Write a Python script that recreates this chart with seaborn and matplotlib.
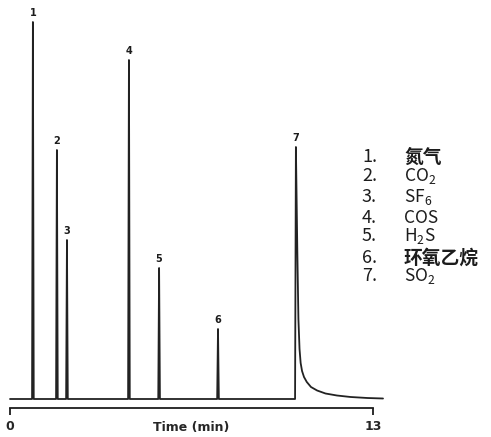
import matplotlib
matplotlib.use("Agg")
import matplotlib.pyplot as plt
import seaborn as sns
import pandas as pd

# ---- data ----
peak_ids = [1, 2, 3, 4, 5, 6, 7]
peak_times = [0.82, 1.68, 2.04, 4.26, 5.34, 7.45, 10.24]      # min
peak_heights = [377, 249, 159, 339, 131, 70, 252]              # detector response (a.u.)
tail_times = [10.29, 10.33, 10.37, 10.41, 10.46, 10.53, 10.63, 10.78, 11.00,
              11.30, 11.71, 12.20, 12.80, 13.36]                 # SO2 peak tailing
tail_heights = [150, 80, 50, 36, 28, 22, 17, 12, 8.5, 5.5, 3.5, 2, 1, 0.5]
legend_nums = ["1.", "2.", "3.", "4.", "5.", "6.", "7."]
legend_names = ["氮气", "CO$_2$", "SF$_6$", "COS", "H$_2$S", "环氧乙烷", "SO$_2$"]
x_ticks = [0, 13]
x_ticklabels = ["0", "13"]
x_label = "Time (min)"

# ---- build trace ----
half_w = 0.03
tx, ty = [0.0], [0.0]
for i, (t, h) in enumerate(zip(peak_times, peak_heights)):
    tx += [t - half_w, t]
    ty += [0, h]
    if i < len(peak_times) - 1:
        tx.append(t + half_w)
        ty.append(0)
tx += tail_times
ty += tail_heights
df = pd.DataFrame({"time": tx, "signal": ty})

sns.set_style("white")
plt.rcParams["font.family"] = ["DejaVu Sans", "Noto Sans CJK SC"]
plt.rcParams["mathtext.default"] = "regular"
plt.rcParams["mathtext.fontset"] = "custom"
plt.rcParams["mathtext.rm"] = "Noto Sans CJK SC"

fig = plt.figure(figsize=(4.91, 4.37), dpi=100)
ax = fig.add_axes([0, 0, 1, 1])
ax.patch.set_alpha(0)

sns.lineplot(data=df, x="time", y="signal", sort=False, estimator=None,
             color="#222222", linewidth=1.3, ax=ax)

for pid, t, h in zip(peak_ids, peak_times, peak_heights):
    ax.text(t, h + 4, str(pid), ha="center", va="bottom", fontsize=7,
            fontweight="bold", color="#1c1c1c")

ax.set_xlim(-10 / 27.92, 481 / 27.92)
ax.set_ylim(-38, 399)

for s in ["left", "top", "right"]:
    ax.spines[s].set_visible(False)
ax.spines["bottom"].set_position(("data", -9))
ax.spines["bottom"].set_bounds(0, 13)
ax.spines["bottom"].set_linewidth(1.3)
ax.spines["bottom"].set_color("#1c1c1c")
ax.set_yticks([])
ax.set_xticks(x_ticks)
ax.set_xticklabels(x_ticklabels, fontsize=9, fontweight="bold")
ax.tick_params(axis="x", direction="out", length=5, width=1.3, color="#1c1c1c",
               pad=4, bottom=True)
ax.set_xlabel(x_label, fontsize=9, fontweight="bold")
ax.set_ylabel("")
ax.xaxis.set_label_coords(191 / 491, 1 - 428 / 437)
ax.xaxis.label.set_va("center")

# legend-like list
fam = ["Noto Sans CJK SC", "DejaVu Sans"]
row_y = [157, 176, 197, 218, 236, 258, 276]
for num, name, y in zip(legend_nums, legend_names, row_y):
    fig.text(362 / 491, 1 - y / 437, num, fontsize=13, va="center", ha="left",
             family=fam, color="#1c1c1c")
    is_cjk = any(ord(c) > 0x2E80 for c in name)
    fig.text(404 / 491, 1 - y / 437, name, fontsize=13.5 if is_cjk else 12.5,
             va="center", ha="left", family=fam, color="#1c1c1c",
             fontweight="bold" if is_cjk else "normal")

fig.savefig("out.png", dpi=100)
